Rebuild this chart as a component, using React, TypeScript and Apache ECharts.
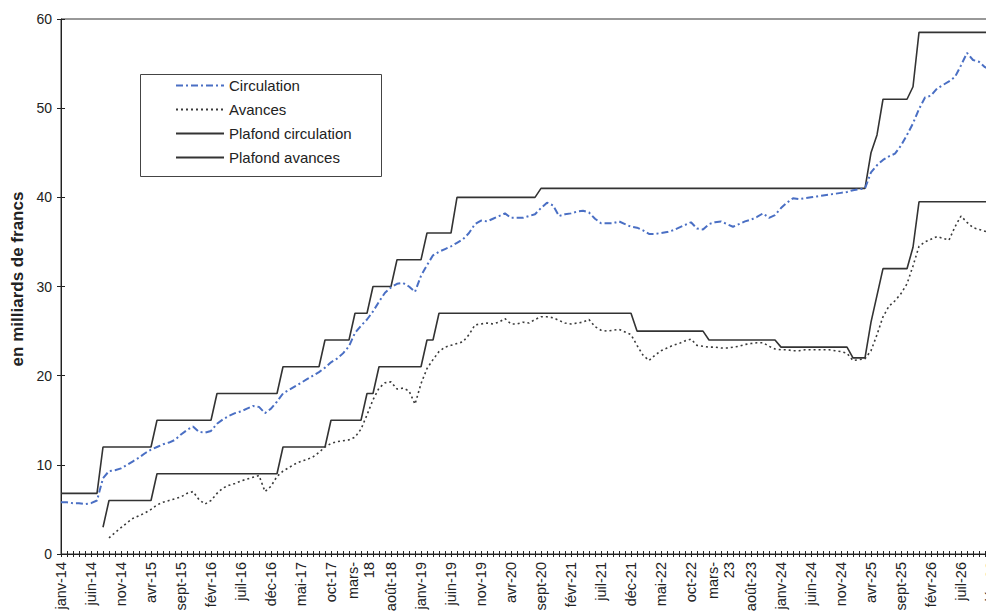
import { useEffect, useRef } from "react";
import * as echarts from "echarts";

const MONTHS = ["janv", "févr", "mars", "avr", "mai", "juin", "juil", "août", "sept", "oct", "nov", "déc"];
const YEARS = ["14", "15", "16", "17", "18", "19", "20", "21", "22", "23", "24", "25", "26"];
const categories: string[] = [];
for (const y of YEARS) for (const m of MONTHS) categories.push(`${m}-${y}`);

const Y_MIN = 0;
const Y_MAX = 60;
const Y_STEP = 10;
const Y_TITLE = "en milliards de francs";

const SERIES_NAMES = ["Circulation", "Avances", "Plafond circulation", "Plafond avances"];

// monthly values, janv-14 .. déc-26 (milliards de francs)
const circulation = [
  5.8, 5.8, 5.7, 5.7, 5.6, 5.7, 6.0, 8.5, 9.3, 9.4, 9.6, 10.0,
  10.4, 10.8, 11.3, 11.7, 12.0, 12.3, 12.5, 12.8, 13.4, 13.9, 14.3, 13.7,
  13.6, 13.8, 14.6, 15.1, 15.5, 15.8, 16.0, 16.3, 16.6, 16.5, 15.8, 16.3,
  17.1, 18.0, 18.4, 18.8, 19.2, 19.6, 20.0, 20.4, 20.9, 21.5, 21.9, 22.5,
  23.3, 24.8, 25.6, 26.3, 27.2, 28.3, 29.3, 29.9, 30.3, 30.4, 30.0, 29.4,
  31.2, 32.4, 33.5, 33.9, 34.2, 34.5, 34.9, 35.3, 36.0, 37.0, 37.4, 37.3,
  37.6, 37.9, 38.2, 37.7, 37.7, 37.7, 37.9, 38.1, 38.8, 39.4, 39.1, 37.9,
  38.1, 38.2, 38.4, 38.5, 38.3, 37.6, 37.1, 37.1, 37.1, 37.3, 37.0, 36.7,
  36.6, 36.3, 35.9, 35.9, 36.0, 36.1, 36.3, 36.6, 36.9, 37.2, 36.5, 36.4,
  37.0, 37.2, 37.3, 37.0, 36.7, 37.0, 37.3, 37.5, 37.8, 38.2, 37.7, 38.0,
  38.8, 39.4, 39.9, 39.8, 39.9, 40.0, 40.1, 40.2, 40.3, 40.4, 40.5, 40.6,
  40.8, 40.9, 41.0, 42.8, 43.6, 44.2, 44.6, 44.9, 45.8, 47.0, 48.3, 49.9,
  51.2, 51.4, 52.2, 52.6, 53.0, 53.5, 54.8, 56.2, 55.4, 55.2, 54.6, 54.3,
];

const avances = [
  null, null, null, null, null, null, null, null, 1.8, 2.4, 2.95, 3.5,
  4.0, 4.3, 4.6, 5.0, 5.5, 5.8, 6.0, 6.2, 6.4, 6.8, 7.0, 6.1,
  5.6, 6.0, 6.8, 7.4, 7.7, 7.9, 8.2, 8.4, 8.6, 8.8, 7.0, 7.6,
  8.7, 9.3, 9.7, 10.1, 10.4, 10.6, 10.9, 11.4, 12.0, 12.4, 12.6, 12.7,
  12.8, 13.1, 14.0, 15.6, 17.3, 18.6, 19.2, 19.3, 18.5, 18.6, 18.3, 16.8,
  19.1, 20.8, 21.8, 22.7, 23.2, 23.4, 23.6, 23.8, 24.6, 25.7, 25.8, 25.9,
  25.8, 26.0, 26.4, 25.8, 25.8, 26.0, 25.9, 26.3, 26.6, 26.6, 26.5, 26.2,
  25.9, 25.8, 25.9, 26.0, 26.3, 25.5, 25.1, 25.0, 25.1, 25.2, 24.9, 24.6,
  23.4, 22.3, 21.7, 22.3, 22.8, 23.1, 23.4, 23.6, 23.9, 24.1, 23.4, 23.3,
  23.2, 23.2, 23.1, 23.1, 23.2, 23.3, 23.5, 23.6, 23.7, 23.7, 23.3, 23.0,
  22.9, 22.9, 22.8, 22.8, 22.9, 22.9, 22.9, 22.9, 22.9, 22.8, 22.7, 22.5,
  21.7, 21.8, 21.9, 22.8, 24.6, 26.6, 27.8, 28.4, 29.2, 30.3, 32.3, 34.5,
  35.0, 35.3, 35.6, 35.4, 35.2, 36.7, 37.9, 37.2, 36.6, 36.4, 36.2, 36.0,
];

const plafondCirculation = [
  6.8, 6.8, 6.8, 6.8, 6.8, 6.8, 6.8, 12, 12, 12, 12, 12,
  12, 12, 12, 12, 15, 15, 15, 15, 15, 15, 15, 15,
  15, 15, 18, 18, 18, 18, 18, 18, 18, 18, 18, 18,
  18, 21, 21, 21, 21, 21, 21, 21, 24, 24, 24, 24,
  24, 27, 27, 27, 30, 30, 30, 30, 33, 33, 33, 33,
  33, 36, 36, 36, 36, 36, 40, 40, 40, 40, 40, 40,
  40, 40, 40, 40, 40, 40, 40, 40, 41, 41, 41, 41,
  41, 41, 41, 41, 41, 41, 41, 41, 41, 41, 41, 41,
  41, 41, 41, 41, 41, 41, 41, 41, 41, 41, 41, 41,
  41, 41, 41, 41, 41, 41, 41, 41, 41, 41, 41, 41,
  41, 41, 41, 41, 41, 41, 41, 41, 41, 41, 41, 41,
  41, 41, 41, 45, 47, 51, 51, 51, 51, 51, 52.4, 58.5,
  58.5, 58.5, 58.5, 58.5, 58.5, 58.5, 58.5, 58.5, 58.5, 58.5, 58.5, 58.5,
];

const plafondAvances = [
  null, null, null, null, null, null, null, 3, 6, 6, 6, 6,
  6, 6, 6, 6, 9, 9, 9, 9, 9, 9, 9, 9,
  9, 9, 9, 9, 9, 9, 9, 9, 9, 9, 9, 9,
  9, 12, 12, 12, 12, 12, 12, 12, 12, 15, 15, 15,
  15, 15, 15, 18, 18, 21, 21, 21, 21, 21, 21, 21,
  21, 24, 24, 27, 27, 27, 27, 27, 27, 27, 27, 27,
  27, 27, 27, 27, 27, 27, 27, 27, 27, 27, 27, 27,
  27, 27, 27, 27, 27, 27, 27, 27, 27, 27, 27, 27,
  25, 25, 25, 25, 25, 25, 25, 25, 25, 25, 25, 25,
  24, 24, 24, 24, 24, 24, 24, 24, 24, 24, 24, 24,
  23.2, 23.2, 23.2, 23.2, 23.2, 23.2, 23.2, 23.2, 23.2, 23.2, 23.2, 23.2,
  22, 22, 22, 26, 29, 32, 32, 32, 32, 32, 34.4, 39.5,
  39.5, 39.5, 39.5, 39.5, 39.5, 39.5, 39.5, 39.5, 39.5, 39.5, 39.5, 39.5,
];

const FONT = '"Liberation Sans", Arial, Helvetica, sans-serif';
const INK = "#222";

export default function App() {
  const ref = useRef<HTMLDivElement>(null);

  useEffect(() => {
    if (!ref.current) return;
    document.body.style.margin = "0";
    document.body.style.overflow = "hidden";
    const chart = echarts.init(ref.current, undefined, { renderer: "svg" });

    const labelFormatter = (v: string) => (v.startsWith("mars-") ? v.replace("-", "-\n") : v);

    chart.setOption({
      animation: false,
      backgroundColor: "#fff",
      textStyle: { fontFamily: FONT },
      grid: {
        left: 61,
        right: 9,
        top: 19,
        bottom: 61,
        show: true,
        borderColor: "#333",
        borderWidth: 1,
        backgroundColor: "transparent",
      },
      xAxis: [
        {
          type: "category",
          data: categories,
          boundaryGap: false,
          position: "bottom",
          axisLine: { show: true, lineStyle: { color: INK, width: 1 } },
          axisTick: { show: true, interval: 0, length: 3, lineStyle: { color: INK } },
          axisLabel: {
            interval: 4,
            rotate: 90,
            fontSize: 14.5,
            color: INK,
            margin: 8,
            lineHeight: 16,
            fontFamily: FONT,
            formatter: labelFormatter,
          },
          splitLine: { show: false },
        },
        {
          type: "category",
          data: categories,
          boundaryGap: false,
          position: "bottom",
          axisLine: { show: false },
          axisTick: { show: true, inside: true, interval: 0, length: 3, lineStyle: { color: INK } },
          axisLabel: { show: false },
          splitLine: { show: false },
        },
      ],
      yAxis: [
        {
          type: "value",
          min: Y_MIN,
          max: Y_MAX,
          interval: Y_STEP,
          position: "left",
          axisLine: { show: true, lineStyle: { color: INK, width: 1 } },
          axisTick: { show: true, length: 4, lineStyle: { color: INK } },
          axisLabel: { fontSize: 14, color: INK, margin: 9, fontFamily: FONT },
          splitLine: { show: false },
        },
        {
          type: "value",
          min: Y_MIN,
          max: Y_MAX,
          interval: Y_STEP,
          position: "left",
          axisLine: { show: false },
          axisTick: { show: true, inside: true, length: 4, lineStyle: { color: INK } },
          axisLabel: { show: false },
          splitLine: { show: false },
        },
      ],
      graphic: [
        {
          type: "rect",
          shape: { x: 140.5, y: 74.5, width: 241, height: 102 },
          style: { fill: "#fff", stroke: "#444", lineWidth: 1 },
          z: 1,
        },
        {
          type: "text",
          x: 17,
          y: 279,
          rotation: Math.PI / 2,
          style: {
            text: Y_TITLE,
            fontSize: 17,
            fontWeight: "bold",
            fill: INK,
            fontFamily: FONT,
            align: "center",
            verticalAlign: "middle",
          },
          z: 5,
        },
      ],
      legend: {
        data: SERIES_NAMES,
        orient: "vertical",
        left: 175,
        top: 78,
        itemWidth: 48,
        itemHeight: 14,
        itemGap: 9,
        padding: 0,
        z: 10,
        itemStyle: { opacity: 0 },
        textStyle: { fontSize: 15, color: INK, fontFamily: FONT },
      },
      series: [
        {
          name: SERIES_NAMES[0],
          type: "line",
          data: circulation,
          symbol: "none",
          connectNulls: false,
          lineStyle: { color: "#4a6fc4", width: 2, type: [7, 3, 2, 3] },
          itemStyle: { color: "#4a6fc4" },
          z: 4,
        },
        {
          name: SERIES_NAMES[1],
          type: "line",
          data: avances,
          symbol: "none",
          connectNulls: false,
          lineStyle: { color: "#3a3a3a", width: 1.6, type: [2, 3] },
          itemStyle: { color: "#3a3a3a" },
          z: 3,
        },
        {
          name: SERIES_NAMES[2],
          type: "line",
          data: plafondCirculation,
          symbol: "none",
          connectNulls: false,
          lineStyle: { color: "#333", width: 1.6, type: "solid" },
          itemStyle: { color: "#333" },
          z: 2,
        },
        {
          name: SERIES_NAMES[3],
          type: "line",
          data: plafondAvances,
          symbol: "none",
          connectNulls: false,
          lineStyle: { color: "#333", width: 1.6, type: "solid" },
          itemStyle: { color: "#333" },
          z: 2,
        },
      ],
    });

    return () => chart.dispose();
  }, []);

  return (
    <div
      style={{
        position: "fixed",
        left: 0,
        top: 0,
        width: 986,
        height: 615,
        overflow: "hidden",
        background: "#fff",
      }}
    >
      <div ref={ref} style={{ width: 1000, height: 615 }} />
    </div>
  );
}
